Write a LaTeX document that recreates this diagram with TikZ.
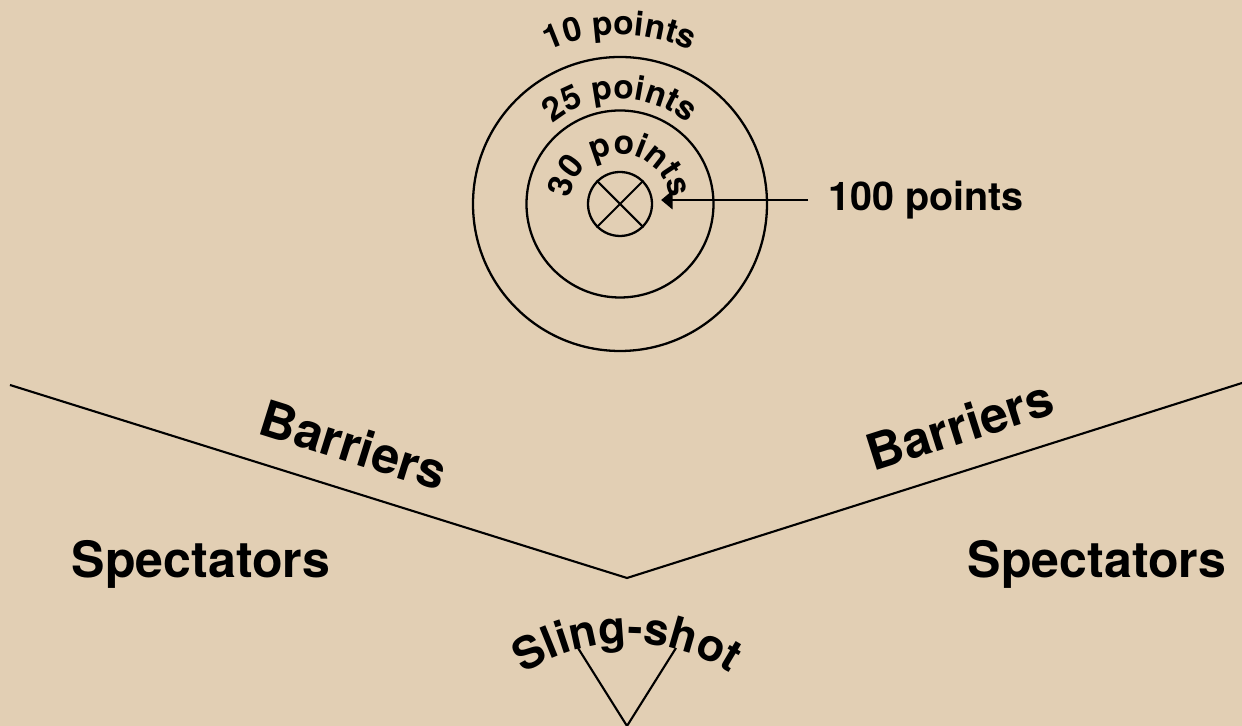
\documentclass[tikz,border=0pt]{standalone}
\usepackage{fontspec}
\setmainfont{TeX Gyre Heros}
\usetikzlibrary{arrows.meta,decorations.text}
\definecolor{parchment}{RGB}{226,207,180}
\newcommand\ringfont{\bfseries\fontsize{19}{21}\selectfont}
\newcommand\slingfont{\bfseries\fontsize{25.5}{27}\selectfont}

\begin{document}
\begin{tikzpicture}[x=0.02cm,y=0.02cm,every node/.style={font=\bfseries},
  ring/.style={draw,line width=1.3pt},
  wall/.style={draw,line width=1.2pt},
  big/.style={font=\bfseries\fontsize{28.5}{31}\selectfont,inner sep=0pt},
  ringlabel/.style={decorate,decoration={text along path,text align=center,text={|\ringfont|#1}}}]
\fill[parchment] (0,0) rectangle (1242,726);
\useasboundingbox (0,0) rectangle (1242,726);
\coordinate (c) at (620,522);
\draw[ring] (c) circle[radius=147];
\draw[ring] (c) circle[radius=93.5];
\node[draw,circle,line width=1.3pt,minimum size=1.28cm,inner sep=0pt] (bull) at (c) {};
\draw[line width=1.2pt] (bull.45) -- (bull.225) (bull.135) -- (bull.315);
\path[ringlabel=10 points] (c) ++(135:169) arc[start angle=135,end angle=45,radius=169];
\path[ringlabel=25 points] (c) ++(160:105) arc[start angle=160,end angle=20,radius=105];
\path[ringlabel=30 points] (c) ++(210:50) arc[start angle=210,end angle=-30,radius=50];
\node[font=\bfseries\fontsize{22.5}{24}\selectfont,anchor=west,inner sep=0pt] (hundred) at (828,526) {100 points};
\draw[line width=1.3pt,-{Triangle[length=6.5pt,width=10.5pt]},shorten <=0.4cm,shorten >=0.16cm] (hundred.west) -- (hundred.west -| bull.east);
\coordinate (wl) at (10,341);
\coordinate (apex) at (627,148);
\coordinate (wr) at (1242,343);
\draw[wall] (wl) -- (apex) -- (wr);
\node[big,rotate=-17.4] (barl) at (354,281) {Barriers};
\node[big,rotate=17.6] (barr) at (960,301) {Barriers};
\node[big,anchor=base] (specl) at (201,148) {Spectators};
\node[big,anchor=base] (specr) at (1097,148) {Spectators};
\coordinate (slc) at (627,-107);
\path[decorate,decoration={text along path,text align=center,text={|\slingfont|Sling-shot}}] (slc) ++(130:190) arc[start angle=130,end angle=50,radius=190];
\coordinate (grip) at (627,0);
\coordinate (forkl) at (578,78);
\coordinate (forkr) at (676,78);
\draw[wall] (forkl) -- (grip) -- (forkr);
\end{tikzpicture}
\end{document}
